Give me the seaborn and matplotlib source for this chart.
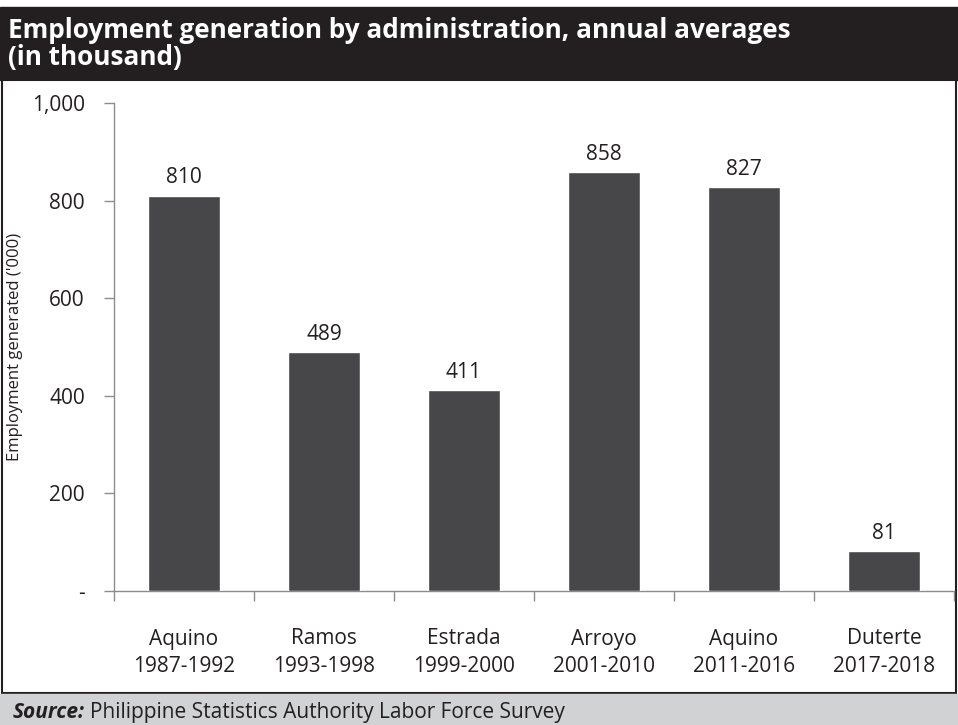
import matplotlib
matplotlib.use("Agg")
import matplotlib.pyplot as plt
import matplotlib.patches as mpatches
import matplotlib.ticker as mticker
import numpy as np
import pandas as pd
import seaborn as sns

# Administrations and their average annual employment generation (thousand)
administrations = ["Aquino\n1987-1992", "Ramos\n1993-1998", "Estrada\n1999-2000",
                   "Arroyo\n2001-2010", "Aquino\n2011-2016", "Duterte\n2017-2018"]
jobs_generated = [810, 489, 411, 858, 827, 81]
y_ticks = [0, 200, 400, 600, 800, 1000]
y_tick_labels = ["-", "200", "400", "600", "800", "1,000"]

sns.set_theme(style="white")
plt.rcParams["font.family"] = ["Open Sans", "DejaVu Sans"]

df = pd.DataFrame({"admin": administrations, "jobs": jobs_generated})

W, H = 958, 725
fig = plt.figure(figsize=(W / 100, H / 100), dpi=100)

# Header band, framed panel and source band (kept beneath the axes)
fig.patches.append(mpatches.Rectangle((0, 1 - 80 / H), 1, 73 / H,
                                      transform=fig.transFigure, color="#231f20", zorder=-5))
fig.patches.append(mpatches.Rectangle((2 / W, 1 - 693 / H), 954 / W, 613 / H,
                                      transform=fig.transFigure, facecolor="white",
                                      edgecolor="#231f20", linewidth=1.5, zorder=-5))
fig.patches.append(mpatches.Rectangle((0, 0), 1, 31 / H,
                                      transform=fig.transFigure, color="#d1d2d4", zorder=-5))

head_font = ["Open Sans", "DejaVu Sans"]
fig.text(8 / W, 1 - 38 / H, "Employment generation by administration, annual averages",
         color="white", fontsize=18.8, fontweight="bold", family=head_font, va="baseline")
fig.text(8 / W, 1 - 65 / H, "(in thousand)",
         color="white", fontsize=18.8, fontweight="bold", family=head_font, va="baseline")

src = fig.text(13 / W, 1 - 718 / H, "Source:", color="#231f20", fontsize=15,
               fontweight="bold", fontstyle="italic", family=head_font, va="baseline")
fig.canvas.draw()
src_box = src.get_window_extent()
fig.text((src_box.x1 + 5) / W, 1 - 718 / H, "Philippine Statistics Authority Labor Force Survey",
         color="#231f20", fontsize=15, family=head_font, va="baseline")

ax = fig.add_axes([114 / W, 134 / H, 840 / W, 488 / H])
ax.set_facecolor("none")
sns.barplot(data=df, x="admin", y="jobs", color="#474749", width=0.51,
            saturation=1, ax=ax, zorder=3)

for i, v in enumerate(jobs_generated):
    ax.annotate(f"{v}", xy=(i, v), xytext=(0, 13), textcoords="offset points",
                ha="center", va="center", fontsize=15, color="#231f20")

ax.set_xlim(-0.5, 5.5)
ax.set_ylim(0, 1000)
ax.set_yticks(y_ticks)
ax.set_yticklabels(y_tick_labels, fontsize=15, color="#231f20")
for lbl in ax.get_xticklabels():
    lbl.set_linespacing(1.4)
ax.tick_params(axis="x", which="major", bottom=True, labelsize=15, labelcolor="#231f20",
               length=0, pad=27)
ax.xaxis.set_minor_locator(mticker.FixedLocator(np.arange(-0.5, 6, 1)))
ax.tick_params(axis="x", which="minor", bottom=True, length=7, color="#8c8c8c",
               width=1, direction="out")
ax.tick_params(axis="y", left=True, length=7, color="#8c8c8c", width=1,
               direction="out", pad=14)
ax.set_xlabel("")
ax.set_ylabel("Employment generated ('000)", fontsize=12, color="#231f20", labelpad=6)

for side in ["top", "right"]:
    ax.spines[side].set_visible(False)
for side in ["left", "bottom"]:
    ax.spines[side].set_color("#8c8c8c")
    ax.spines[side].set_linewidth(1)

fig.savefig("out.png", dpi=100)
